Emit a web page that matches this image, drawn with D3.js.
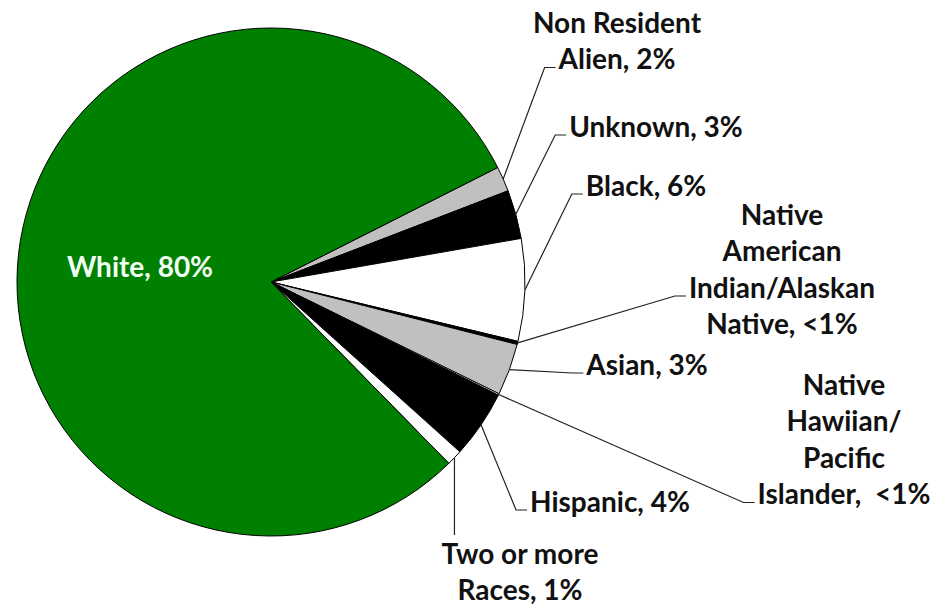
<!DOCTYPE html>
<html>
<head>
<meta charset="utf-8">
<script src="https://cdn.jsdelivr.net/npm/d3@7"></script>
<style>
  html, body { margin: 0; padding: 0; background: #fff; }
  svg { display: block; }
  text { font-family: Lato, "Liberation Sans", sans-serif; font-weight: bold; white-space: pre; }
</style>
</head>
<body>
<svg id="chart" width="945" height="605"></svg>
<script>
// ---- data (order clockwise, starting at the upper right) ----
const categories = ["Non Resident Alien", "Unknown", "Black", "Native American Indian/Alaskan Native",
                    "Asian", "Native Hawiian/Pacific Islander", "Hispanic", "Two or more Races", "White"];
const values = [1.6, 3.1, 6.5, 0.2, 3.3, 0.1, 4.3, 1.0, 79.9];
const labelLines = [
  ["Non Resident", "Alien, 2%"],
  ["Unknown, 3%"],
  ["Black, 6%"],
  ["Native", "American", "Indian/Alaskan", "Native, <1%"],
  ["Asian, 3%"],
  ["Native", "Hawiian/", "Pacific", "Islander,  <1%"],
  ["Hispanic, 4%"],
  ["Two or more", "Races, 1%"],
  ["White, 80%"]
];

// ---- styles / layout ----
const fills = ["#c0c0c0", "#000000", "#ffffff", "#000000", "#c0c0c0", "#ffffff", "#000000", "#ffffff", "#008000"];
const cx = 271, cy = 282, R = 254;
const startDeg = 63.2;
const fontSize = 28, lineH = 36.5;
// label block: centre x, centre y of first line, line the leader attaches to ('top' = vertical to block top, null = none)
const labelLayout = [
  { x: 617, y: 23,  attach: 1 },
  { x: 656, y: 127, attach: 0 },
  { x: 646, y: 186, attach: 0 },
  { x: 782, y: 215, attach: 2 },
  { x: 647, y: 365, attach: 0 },
  { x: 844, y: 385, attach: 3 },
  { x: 610, y: 502, attach: 0 },
  { x: 520, y: 554, attach: "top" },
  { x: 140, y: 267, attach: null, color: "#f4fff4" }
];

const svg = d3.select("#chart");
const g = svg.append("g").attr("transform", `translate(${cx},${cy})`);

const pie = d3.pie().sort(null).value(d => d)
  .startAngle(startDeg * Math.PI / 180)
  .endAngle(startDeg * Math.PI / 180 + 2 * Math.PI);
const arcs = pie(values);
const arc = d3.arc().innerRadius(0).outerRadius(R);

g.selectAll("path.slice").data(arcs).join("path")
  .attr("class", "slice")
  .attr("d", arc)
  .attr("fill", (d, i) => fills[i])
  .attr("stroke", "#000")
  .attr("stroke-width", 1)
  .attr("stroke-linejoin", "round");

// labels
const labelG = svg.append("g");
arcs.forEach((a, i) => {
  const L = labelLayout[i];
  const lines = labelLines[i];
  const t = labelG.append("g");
  const texts = lines.map((ln, k) =>
    t.append("text")
      .attr("x", L.x)
      .attr("y", L.y + k * lineH)
      .attr("dy", "0.35em")
      .attr("text-anchor", "middle")
      .attr("font-size", fontSize)
      .attr("fill", L.color || "#111")
      .text(ln));
  if (L.attach === null) return;
  const mid = (a.startAngle + a.endAngle) / 2;
  const p0 = [cx + R * Math.sin(mid), cy - R * Math.cos(mid)];
  let pts;
  if (L.attach === "top") {
    const yTop = L.y - fontSize * 0.5 - 5;
    pts = [p0, [p0[0], yTop]];
  } else {
    const node = texts[L.attach].node();
    const w = node.getComputedTextLength();
    const left = L.x - w / 2;
    const yb = L.y + L.attach * lineH + 8;
    pts = [p0, [left - 14, yb], [left - 3, yb]];
  }
  labelG.append("path")
    .attr("d", d3.line()(pts))
    .attr("fill", "none")
    .attr("stroke", "#222")
    .attr("stroke-width", 1.2);
});
</script>
</body>
</html>
